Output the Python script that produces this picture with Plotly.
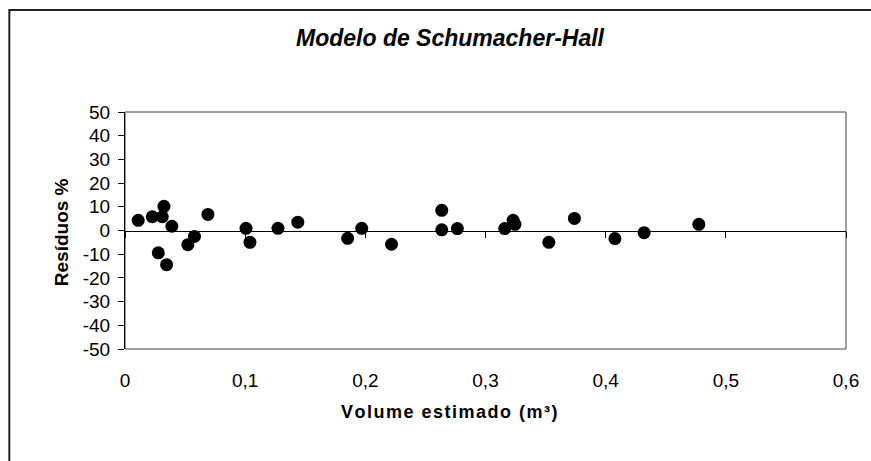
import plotly.graph_objects as go

# Data
volume = [0.011, 0.0227, 0.031, 0.0324, 0.0277, 0.0346, 0.039, 0.0523, 0.0578, 0.069,
          0.1007, 0.104, 0.1273, 0.1438, 0.1853, 0.197, 0.2218, 0.2636, 0.2636, 0.2766,
          0.316, 0.323, 0.3245, 0.3527, 0.374, 0.4077, 0.432, 0.4775]
residuos = [4.3, 5.8, 5.8, 10.2, -9.4, -14.4, 1.8, -6.0, -2.5, 6.8,
            0.9, -5.0, 0.9, 3.5, -3.3, 0.9, -5.8, 8.5, 0.3, 0.8,
            0.8, 4.3, 2.6, -5.0, 5.1, -3.4, -0.9, 2.6]

x_ticks = [0, 0.1, 0.2, 0.3, 0.4, 0.5, 0.6]
x_labels = ["0", "0,1", "0,2", "0,3", "0,4", "0,5", "0,6"]
y_ticks = [-50, -40, -30, -20, -10, 0, 10, 20, 30, 40, 50]
y_labels = ["-50", "-40", "-30", "-20", "-10", "0", "10", "20", "30", "40", "50"]

title = "Modelo de Schumacher-Hall"
x_title = "Volume estimado (m³)"
y_title = "Resíduos %"

FONT = "Liberation Sans, Arial, sans-serif"
W, H = 871, 461
L, R, T, B = 125, 848, 112, 349


def px_x(p):
    return (p - L) / (R - L)


def px_y(p):
    return (B - p) / (B - T)


def spaced(s):
    return "\u200a".join(list(s))


fig = go.Figure()
fig.add_trace(go.Scatter(
    x=volume, y=residuos, mode="markers",
    marker=dict(size=13, color="black", line=dict(width=0)),
    showlegend=False, hoverinfo="x+y"))
# invisible trace to carry the zero-line axis
fig.add_trace(go.Scatter(x=[0], y=[0], xaxis="x2", mode="markers",
                         marker=dict(opacity=0), showlegend=False, hoverinfo="skip"))

fig.update_layout(
    width=W, height=H,
    margin=dict(l=L, r=W - R, t=T, b=H - B),
    paper_bgcolor="white", plot_bgcolor="white",
    font=dict(family=FONT, color="black", size=19),
    xaxis=dict(range=[0, 0.6], tickvals=x_ticks, ticktext=x_labels,
               showgrid=False, zeroline=False, showline=False, ticks="",
               ticklabelstandoff=18, tickfont=dict(size=19)),
    xaxis2=dict(range=[0, 0.6], overlaying="x", anchor="free", position=0.5,
                side="bottom", showgrid=False, zeroline=False, showline=True,
                linecolor="black", linewidth=1, ticks="outside", ticklen=6,
                tickcolor="black", tickvals=x_ticks, showticklabels=False),
    yaxis=dict(range=[-50, 50], tickvals=y_ticks, ticktext=y_labels,
               showgrid=False, zeroline=False, showline=True, linecolor="black",
               linewidth=1, ticks="outside", ticklen=6, tickcolor="black",
               ticklabelstandoff=4, tickfont=dict(size=19)),
    shapes=[
        dict(type="rect", xref="paper", yref="paper", x0=0, y0=0, x1=1, y1=1,
             line=dict(color="#404040", width=1), layer="below"),
        dict(type="rect", xref="paper", yref="paper",
             x0=px_x(9), y0=px_y(10), x1=px_x(W + 20), y1=px_y(H + 20),
             line=dict(color="#222222", width=2)),
    ],
    annotations=[
        dict(text="<b><i>" + title + "</i></b>", xref="paper", yref="paper",
             x=px_x(451), y=px_y(38), showarrow=False, xanchor="center",
             yanchor="middle", font=dict(size=23)),
        dict(text="<b>" + spaced(x_title) + "</b>", xref="paper", yref="paper",
             x=px_x(450), y=px_y(412), showarrow=False, xanchor="center",
             yanchor="middle", font=dict(size=18)),
        dict(text="<b>" + y_title + "</b>", xref="paper", yref="paper",
             x=px_x(61), y=px_y(232), showarrow=False, xanchor="center",
             yanchor="middle", textangle=-90, font=dict(size=19)),
    ],
)

fig.write_html("out.html")
